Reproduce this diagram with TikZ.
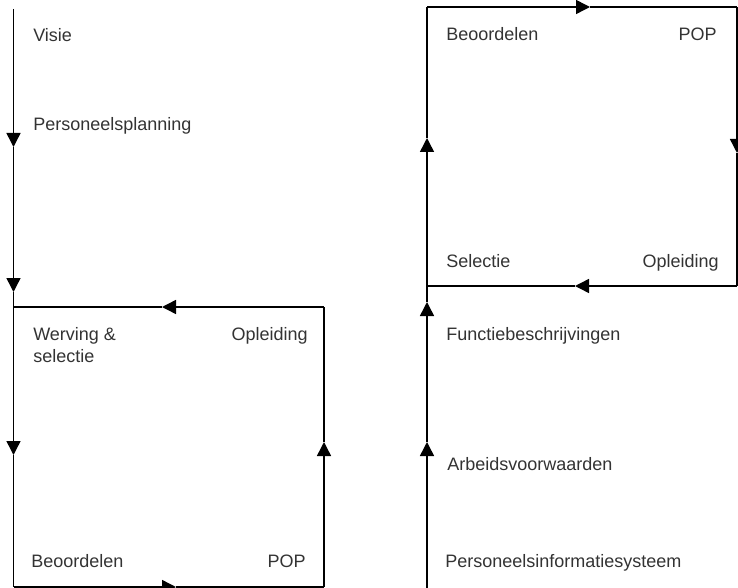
\documentclass[tikz,border=0pt]{standalone}
\usepackage{fontspec}
\setmainfont{Liberation Sans}
\usetikzlibrary{arrows.meta}

\begin{document}
\begin{tikzpicture}[x=0.75pt,y=-0.75pt,
    lijn/.style={line width=1.1pt, black},
    pijl/.style={lijn, -{Triangle[width=10.5pt,length=10.5pt]}},
    tekst/.style={font=\fontsize{13.5}{18}\selectfont, text=black!80, inner sep=0pt}]

    \useasboundingbox (0,0) rectangle (738,588);

    % hoekpunten links
    \coordinate (LS) at (13.5,9);
    \coordinate (LTL) at (13.5,307);
    \coordinate (LTR) at (324,307);
    \coordinate (LBR) at (324,587);
    \coordinate (LBL) at (13.5,587);

    % hoekpunten rechts
    \coordinate (RS) at (427,590);
    \coordinate (RBL) at (427,286);
    \coordinate (RTL) at (427,7);
    \coordinate (RTR) at (737,7);
    \coordinate (RBR) at (737,286);

    % pijlpunten
    \coordinate (l1) at (13.5,147);
    \coordinate (l2) at (13.5,292);
    \coordinate (l3) at (13.5,455);
    \coordinate (lt) at (162,307);
    \coordinate (lr) at (324,442);
    \coordinate (lb) at (176,587);
    \coordinate (r1) at (427,442);
    \coordinate (r2) at (427,302);
    \coordinate (r3) at (427,138);
    \coordinate (rt) at (590,7);
    \coordinate (rr) at (737,153);
    \coordinate (rb) at (575,286);

    % linker lijn en kader
    \draw[pijl] (LS) -- (l1);
    \draw[pijl] (l1) -- (l2);
    \draw[lijn] (l2) -- (LTL);
    \draw[pijl] (LTL) -- (l3);
    \draw[lijn] (l3) -- (LBL);
    \draw[pijl] (LTR) -- (lt);
    \draw[lijn] (lt) -- (LTL);
    \draw[pijl] (LBR) -- (lr);
    \draw[lijn] (lr) -- (LTR);
    \draw[pijl] (LBL) -- (lb);
    \draw[lijn] (lb) -- (LBR);

    % rechter lijn en kader
    \draw[pijl] (RS) -- (r1);
    \draw[pijl] (r1) -- (r2);
    \draw[lijn] (r2) -- (RBL);
    \draw[pijl] (RBL) -- (r3);
    \draw[lijn] (r3) -- (RTL);
    \draw[pijl] (RTL) -- (rt);
    \draw[lijn] (rt) -- (RTR);
    \draw[pijl] (RTR) -- (rr);
    \draw[lijn] (rr) -- (RBR);
    \draw[pijl] (RBR) -- (rb);
    \draw[lijn] (rb) -- (RBL);

    % teksten links
    \node[tekst, anchor=base west] (visie) at (33,42) {Visie};
    \node[tekst, anchor=base west] (planning) at (33,131) {Personeelsplanning};
    \node[tekst, anchor=base west] (werving) at (33,340) {Werving \&};
    \node[tekst, anchor=base west] (selectie) at (33,362) {selectie};
    \node[tekst, anchor=base east] (opleidingL) at (308,340) {Opleiding};
    \node[tekst, anchor=base west] (beoordelenL) at (31,567) {Beoordelen};
    \node[tekst, anchor=base east] (popL) at (306,567) {POP};

    % teksten rechts
    \node[tekst, anchor=base west] (beoordelenR) at (446,41) {Beoordelen};
    \node[tekst, anchor=base east] (popR) at (717,41) {POP};
    \node[tekst, anchor=base west] (selectieR) at (446,267) {Selectie};
    \node[tekst, anchor=base east] (opleidingR) at (719,267) {Opleiding};
    \node[tekst, anchor=base west] (functie) at (446,340) {Functiebeschrijvingen};
    \node[tekst, anchor=base west] (arbeid) at (447,470) {Arbeidsvoorwaarden};
    \node[tekst, anchor=base west] (pis) at (445,567) {Personeelsinformatiesysteem};

\end{tikzpicture}
\end{document}
